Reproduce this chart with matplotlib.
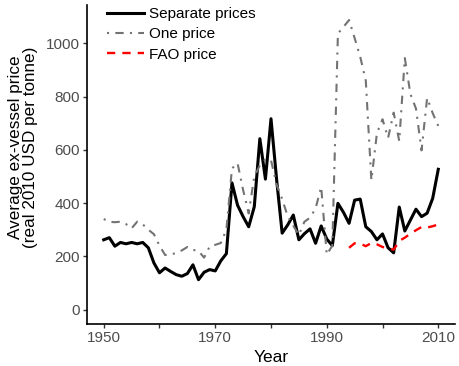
import matplotlib
matplotlib.use("Agg")
import matplotlib.pyplot as plt

plt.rcParams['font.family'] = ['Liberation Sans', 'DejaVu Sans']

years = list(range(1950, 2011))

separate = [262, 270, 238, 252, 247, 252, 247, 252, 232, 175,
            138, 156, 143, 131, 125, 135, 168, 112, 140, 150,
            145, 183, 210, 476, 392, 349, 311, 386, 642, 490,
            717, 490, 287, 318, 355, 262, 285, 303, 249, 314,
            265, 240, 399, 365, 324, 411, 415, 311, 293, 262,
            284, 232, 213, 385, 295, 336, 377, 349, 362, 418,
            527]

one_price = [340, 330, 328, 330, 321, 305, 330, 320, 300, 283,
             240, 205, 206, 213, 222, 235, 224, 220, 195, 237,
             243, 250, 300, 530, 550, 449, 361, 500, 542, 565,
             561, 470, 415, 350, 315, 280, 330, 345, 380, 461,
             206, 240, 1037, 1062, 1088, 1020, 950, 860, 486, 663,
             715, 645, 740, 633, 945, 810, 755, 598, 795, 738,
             690]

fao_years = list(range(1994, 2011))
fao = [232, 249, 248, 238, 250, 245, 235, 230, 225, 258,
       270, 285, 298, 310, 308, 313, 320]

fig = plt.figure(figsize=(4.59, 3.66), dpi=100)
ax = fig.add_axes([87/459, 42/366, 368/459, 319/366])

ax.plot(years, separate, color='black', lw=2.2, label='Separate prices',
        solid_joinstyle='round')
ax.plot(years, one_price, color='#737373', lw=1.5, linestyle=(0, (1, 3, 4, 3)),
        label='One price')
ax.plot(fao_years, fao, color='red', lw=1.7, linestyle=(0, (3.5, 3)),
        label='FAO price')

ax.set_xlim(1947, 2013)
ax.set_ylim(-54.5, 1144.5)
ax.set_xticks([1950, 1960, 1970, 1980, 1990, 2000, 2010])
ax.set_xticklabels(['1950', '', '1970', '', '1990', '', '2010'])
ax.set_yticks([0, 200, 400, 600, 800, 1000])

for s in ['top', 'right']:
    ax.spines[s].set_visible(False)
for s in ['left', 'bottom']:
    ax.spines[s].set_linewidth(1.2)
    ax.spines[s].set_color('black')

ax.tick_params(axis='both', length=3, width=1, color='#333333',
               labelsize=11, labelcolor='#4d4d4d', pad=2.2)

fig.text(271/459, 1 - 357/366, 'Year', ha='center', va='center', fontsize=12.5)
fig.text(23/459, 1 - 147/366, 'Average ex-vessel price\n(real 2010 USD per tonne)',
         ha='center', va='center', rotation=90, fontsize=12.3,
         multialignment='center', linespacing=1.0)

leg = ax.legend(loc='upper left', bbox_to_anchor=(107/459, 1 - 7/366),
                bbox_transform=fig.transFigure, frameon=False,
                fontsize=11, handlelength=2.4, handletextpad=0.35,
                labelspacing=0.42, borderpad=0, borderaxespad=0)

fig.savefig('out.png', dpi=100)
